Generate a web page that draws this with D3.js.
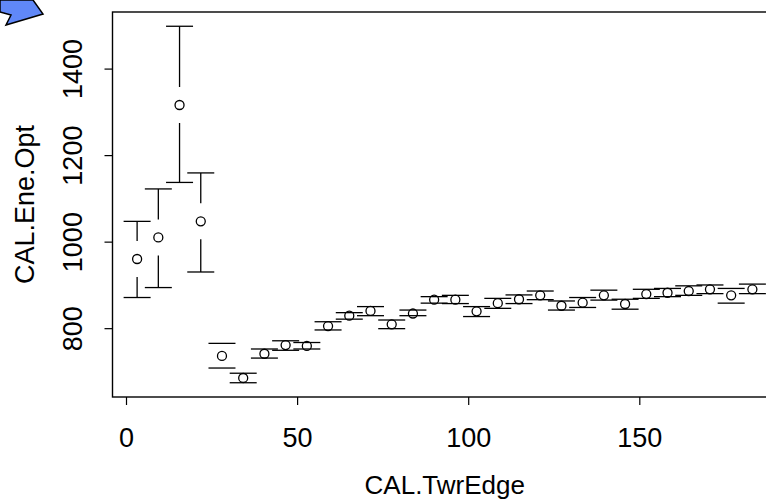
<!DOCTYPE html>
<html>
<head>
<meta charset="utf-8">
<script src="https://cdn.jsdelivr.net/npm/d3@7"></script>
<style>
    body { margin: 0; background: #fff; }
    text { font-family: "Liberation Sans", Arial, sans-serif; fill: #000; }
</style>
</head>
<body>
<div id="chart"></div>
<script>
// bin centres along CAL.TwrEdge
const edgeBins = [3.1, 9.3, 15.5, 21.7, 27.9, 34.1, 40.3, 46.5, 52.7, 58.9,
    65.1, 71.3, 77.5, 83.7, 89.9, 96.1, 102.3, 108.5, 114.7, 120.9,
    127.1, 133.3, 139.5, 145.7, 151.9, 158.1, 164.3, 170.5, 176.7, 182.9];
const eneMean = [961, 1011, 1317, 1048, 737, 686, 742, 762, 760, 806,
    830, 841, 810, 835, 867, 867, 840, 859, 868, 877,
    853, 860, 877, 857, 880, 883, 887, 891, 877, 891];
const eneUpper = [1048, 1123, 1499, 1160, 766, 697, 753, 772, 768, 816,
    837, 851, 820, 843, 874, 877, 851, 870, 878, 887,
    864, 872, 889, 868, 891, 893, 899, 901, 893, 903];
const eneLower = [872, 895, 1138, 931, 709, 675, 732, 750, 753, 797,
    822, 830, 800, 830, 859, 858, 828, 847, 858, 867,
    843, 849, 866, 845, 870, 874, 877, 881, 859, 881];
const xTicks = [0, 50, 100, 150];
const yTicks = [800, 1000, 1200, 1400];

function createCIPlot() {
    const width = 766;
    const height = 501;
    const plot = { left: 112.5, right: 777, top: 12, bottom: 397 };

    const data = edgeBins.map((x, i) => ({
        x: x, y: eneMean[i], hi: eneUpper[i], lo: eneLower[i]
    }));

    // R style 4% padding on both axes
    const pad = (lo, hi) => [lo - (hi - lo) * 0.04, hi + (hi - lo) * 0.04];

    const x = d3.scaleLinear()
        .domain(pad(d3.min(edgeBins), d3.max(edgeBins)))
        .range([plot.left, plot.right]);

    const y = d3.scaleLinear()
        .domain(pad(d3.min(eneLower), d3.max(eneUpper)))
        .range([plot.bottom, plot.top]);

    const svg = d3.select("#chart")
        .append("svg")
        .attr("width", width)
        .attr("height", height);

    // bit of the blue arrow from the slide
    svg.append("polygon")
        .attr("points", "0,0 33,0 43,14 6,25 11,15 0,12")
        .attr("fill", "#6088f8")
        .attr("stroke", "#000")
        .attr("stroke-width", 1.5);

    svg.append("rect")
        .attr("x", plot.left)
        .attr("y", plot.top)
        .attr("width", plot.right - plot.left)
        .attr("height", plot.bottom - plot.top)
        .attr("fill", "none")
        .attr("stroke", "#000")
        .attr("stroke-width", 1.4);

    // x axis
    svg.selectAll(".xtick")
        .data(xTicks)
        .enter()
        .append("line")
        .attr("class", "xtick")
        .attr("x1", d => x(d))
        .attr("x2", d => x(d))
        .attr("y1", plot.bottom)
        .attr("y2", plot.bottom + 8)
        .attr("stroke", "#000")
        .attr("stroke-width", 1.2);

    svg.selectAll(".xlabel")
        .data(xTicks)
        .enter()
        .append("text")
        .attr("class", "xlabel")
        .attr("x", d => x(d))
        .attr("y", 447)
        .attr("text-anchor", "middle")
        .attr("font-size", "27px")
        .text(d => d);

    // y axis
    svg.selectAll(".ytick")
        .data(yTicks)
        .enter()
        .append("line")
        .attr("class", "ytick")
        .attr("x1", plot.left - 8)
        .attr("x2", plot.left)
        .attr("y1", d => y(d))
        .attr("y2", d => y(d))
        .attr("stroke", "#000")
        .attr("stroke-width", 1.2);

    svg.selectAll(".ylabel")
        .data(yTicks)
        .enter()
        .append("text")
        .attr("class", "ylabel")
        .attr("transform", d => "translate(82," + y(d) + ") rotate(-90)")
        .attr("text-anchor", "middle")
        .attr("font-size", "27px")
        .text(d => d);

    svg.append("text")
        .attr("x", (plot.left + plot.right) / 2)
        .attr("y", 494)
        .attr("text-anchor", "middle")
        .attr("font-size", "26px")
        .text("CAL.TwrEdge");

    svg.append("text")
        .attr("transform", "translate(34," + (plot.top + plot.bottom) / 2 + ") rotate(-90)")
        .attr("text-anchor", "middle")
        .attr("font-size", "27px")
        .text("CAL.Ene.Opt");

    // error bars with a gap around the point
    const gap = 18;
    const capHalf = 13.5;
    const bars = svg.selectAll(".ci")
        .data(data)
        .enter()
        .append("g")
        .attr("class", "ci")
        .attr("stroke", "#000")
        .attr("stroke-width", 1.3)
        .attr("fill", "none");

    bars.filter(d => y(d.hi) < y(d.y) - gap)
        .append("line")
        .attr("x1", d => x(d.x))
        .attr("x2", d => x(d.x))
        .attr("y1", d => y(d.hi))
        .attr("y2", d => y(d.y) - gap);

    bars.filter(d => y(d.lo) > y(d.y) + gap)
        .append("line")
        .attr("x1", d => x(d.x))
        .attr("x2", d => x(d.x))
        .attr("y1", d => y(d.y) + gap)
        .attr("y2", d => y(d.lo));

    bars.append("line")
        .attr("x1", d => x(d.x) - capHalf)
        .attr("x2", d => x(d.x) + capHalf)
        .attr("y1", d => y(d.hi))
        .attr("y2", d => y(d.hi));

    bars.append("line")
        .attr("x1", d => x(d.x) - capHalf)
        .attr("x2", d => x(d.x) + capHalf)
        .attr("y1", d => y(d.lo))
        .attr("y2", d => y(d.lo));

    bars.append("circle")
        .attr("cx", d => x(d.x))
        .attr("cy", d => y(d.y))
        .attr("r", 4.5);
}

createCIPlot();
</script>
</body>
</html>
